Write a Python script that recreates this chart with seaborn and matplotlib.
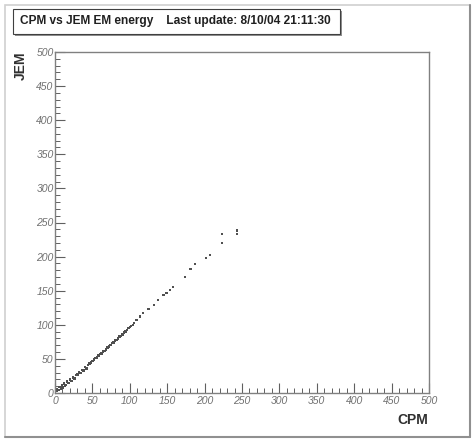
import matplotlib
matplotlib.use("Agg")
import matplotlib.pyplot as plt
import matplotlib.patches as mpatches
from matplotlib.ticker import MultipleLocator
import seaborn as sns
import pandas as pd

title_text = "CPM vs JEM EM energy    Last update: 8/10/04 21:11:30"
x_label = "CPM"
y_label = "JEM"

cpm = [2, 3, 5, 6, 8, 9, 10, 12, 13, 15, 16, 18, 20, 22, 24, 26, 28, 30, 32, 34,
       36, 38, 40, 42, 44, 46, 48, 50, 52, 54, 56, 58, 60, 62, 64, 66, 68, 70, 72, 74,
       76, 78, 80, 82, 84, 86, 88, 90, 92, 94, 96, 98, 100, 102, 104, 106, 109, 114, 118, 125,
       132, 138, 145, 149, 154, 158, 174, 181, 187, 202, 207, 223, 223, 243, 243]
jem = [3, 6, 4, 9, 6, 12, 8, 14, 10, 12, 17, 15, 20, 18, 23, 21, 26, 27, 30, 29,
       34, 33, 38, 36, 41, 43, 45, 47, 49, 51, 52, 55, 57, 58, 61, 62, 64, 67, 68, 70,
       73, 74, 77, 78, 80, 83, 84, 86, 89, 90, 92, 95, 97, 98, 100, 103, 107, 112, 117, 123,
       129, 136, 144, 147, 151, 155, 170, 182, 189, 198, 202, 220, 233, 238, 233]

df = pd.DataFrame({"CPM": cpm, "JEM": jem})

sns.set_style("white")
plt.rcParams['font.family'] = ['Liberation Sans', 'DejaVu Sans']

fig = plt.figure(figsize=(4.75, 4.42), dpi=100)
W, H = 475, 442

# canvas frame with shadow
fig.patches.append(mpatches.Rectangle((5 / W, 5 / H), 465 / W, 432 / H, transform=fig.transFigure,
                                      fill=False, edgecolor="#d0d0d0", lw=1.2))
fig.add_artist(plt.Line2D([470 / W, 470 / W], [5 / H, 437 / H], transform=fig.transFigure,
                          color="#909090", lw=1.5))
fig.add_artist(plt.Line2D([5 / W, 470 / W], [5 / H, 5 / H], transform=fig.transFigure,
                          color="#909090", lw=1.5))

ax = fig.add_axes([55 / W, (H - 393) / H, (429 - 55) / W, (393 - 52) / H])
sns.scatterplot(data=df, x="CPM", y="JEM", ax=ax, marker="s", s=3, color="#505050",
                edgecolor="none", legend=False)

ax.set_xlim(0, 500)
ax.set_ylim(0, 500)
ax.xaxis.set_major_locator(MultipleLocator(50))
ax.xaxis.set_minor_locator(MultipleLocator(10))
ax.yaxis.set_major_locator(MultipleLocator(50))
ax.yaxis.set_minor_locator(MultipleLocator(10))
ax.tick_params(which="both", direction="in", bottom=True, left=True, top=False, right=False,
               colors="#606060", labelcolor="#707070", labelsize=7.5)
ax.tick_params(which="major", length=7, width=0.8)
ax.tick_params(which="minor", length=3.5, width=0.7)
ax.tick_params(axis="x", pad=2)
ax.tick_params(axis="y", pad=1)
for lab in ax.get_xticklabels() + ax.get_yticklabels():
    lab.set_fontstyle("italic")
for sp in ax.spines.values():
    sp.set_color("#808080")
    sp.set_linewidth(1.0)

ax.set_xlabel("")
ax.set_ylabel("")
fig.text(428 / W, (H - 420) / H, x_label, ha="right", va="center", fontsize=10,
         fontweight="bold", color="#303030")
fig.text(21 / W, (H - 52) / H, y_label, ha="center", va="top", fontsize=10,
         fontweight="bold", color="#303030", rotation=90)

# title box with shadow
fig.patches.append(mpatches.Rectangle((15 / W, (H - 36) / H), 327 / W, 25 / H,
                                      transform=fig.transFigure, facecolor="#909090",
                                      edgecolor="none"))
fig.patches.append(mpatches.Rectangle((13 / W, (H - 34) / H), 327 / W, 25 / H,
                                      transform=fig.transFigure, facecolor="white",
                                      edgecolor="#404040", lw=0.8))
fig.text(20 / W, (H - 21) / H, title_text, ha="left", va="center", fontsize=8.6,
         fontweight="bold", color="#202020")

fig.savefig("out.png", dpi=100)
